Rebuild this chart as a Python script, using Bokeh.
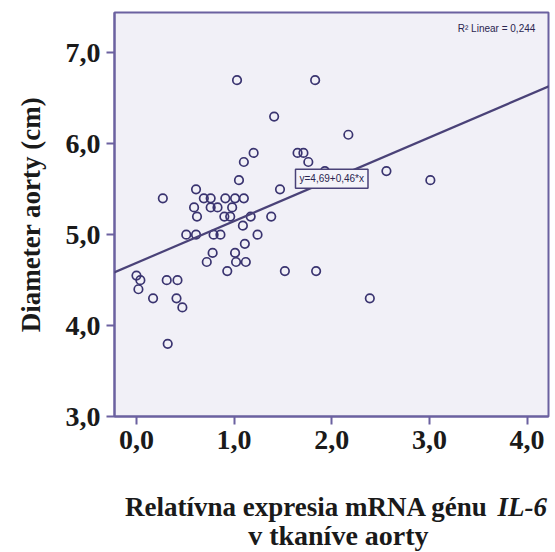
from bokeh.plotting import figure
from bokeh.layouts import column
from bokeh.models import Range1d, FixedTicker, Label, Slope
from bokeh.core.properties import value
from bokeh.embed import file_html
from bokeh.resources import INLINE

# Relative mRNA expression of IL-6 (x) vs aortic diameter in cm (y)
il6_expr = [1.03, 1.83, 1.41, 2.17, 1.20, 1.65, 1.71, 1.10, 1.76, 1.93,
            2.56, 1.05, 3.01, 0.61, 1.47, 0.27, 0.69, 0.76, 0.91, 1.01,
            1.10, 0.59, 0.76, 0.83, 0.98, 0.62, 0.90, 0.96, 1.17, 1.38,
            1.09, 0.51, 0.61, 0.79, 0.86, 1.24, 1.11, 0.78, 1.01, 0.72,
            1.02, 1.12, 0.93, 1.52, 1.84, 0.00, 0.04, 0.02, 0.31, 0.42,
            0.17, 0.41, 0.47, 0.32, 2.39]
diameter = [6.70, 6.70, 6.30, 6.10, 5.90, 5.90, 5.90, 5.80, 5.80, 5.70,
            5.70, 5.60, 5.60, 5.50, 5.50, 5.40, 5.40, 5.40, 5.40, 5.40,
            5.40, 5.30, 5.30, 5.30, 5.30, 5.20, 5.20, 5.20, 5.20, 5.20,
            5.10, 5.00, 5.00, 5.00, 5.00, 5.00, 4.90, 4.80, 4.80, 4.70,
            4.70, 4.70, 4.60, 4.60, 4.60, 4.55, 4.50, 4.40, 4.50, 4.50,
            4.30, 4.30, 4.20, 3.80, 4.30]

fit_intercept = 4.69
fit_slope = 0.46
r_squared = "0,244"

x_ticks = [0, 1, 2, 3, 4]
x_tick_labels = ["0,0", "1,0", "2,0", "3,0", "4,0"]
y_ticks = [3, 4, 5, 6, 7]
y_tick_labels = ["3,0", "4,0", "5,0", "6,0", "7,0"]

y_title = "Diameter aorty (cm)"
x_title_main = "Relatívna expresia mRNA génu"
x_title_gene = "IL-6"
x_title_line2 = "v tkaníve aorty"

PURPLE = "#6b61a0"
MARK = "#3a3470"
SERIF = "Liberation Serif"
TXT = "#1a1a1a"

p = figure(width=555, height=462, output_backend="svg", toolbar_location=None,
           x_range=Range1d(-0.225, 4.22), y_range=Range1d(3.0, 7.445),
           min_border_left=114, min_border_right=7, min_border_top=12,
           min_border_bottom=46)
p.title = None
p.background_fill_color = "#f1f0f7"
p.border_fill_color = "white"
p.outline_line_color = PURPLE
p.outline_line_width = 2
p.grid.visible = False

for ax in (p.xaxis, p.yaxis):
    ax.axis_line_color = PURPLE
    ax.axis_line_width = 2
    ax.major_tick_line_color = PURPLE
    ax.major_tick_line_width = 2
    ax.major_tick_out = 8
    ax.major_tick_in = 0
    ax.minor_tick_line_color = None
    ax.major_label_text_font = SERIF
    ax.major_label_text_font_style = "bold"
    ax.major_label_text_font_size = "28px"
    ax.major_label_text_color = TXT

p.xaxis.ticker = FixedTicker(ticks=x_ticks)
p.xaxis.major_label_overrides = dict(zip(x_ticks, x_tick_labels))
p.xaxis.major_label_standoff = 6
p.yaxis.ticker = FixedTicker(ticks=y_ticks)
p.yaxis.major_label_overrides = dict(zip(y_ticks, y_tick_labels))
p.yaxis.major_label_standoff = 6

p.yaxis.axis_label = y_title
p.yaxis.axis_label_text_font = SERIF
p.yaxis.axis_label_text_font_style = "bold"
p.yaxis.axis_label_text_font_size = "27px"
p.yaxis.axis_label_text_color = TXT
p.yaxis.axis_label_standoff = 17

p.add_layout(Slope(gradient=fit_slope, y_intercept=fit_intercept,
                   line_color="#4a4278", line_width=2.2))

p.scatter(il6_expr, diameter, marker="circle", size=8.5, fill_color=None,
          line_color=MARK, line_width=1.7)

eq = Label(x=2.0, y=5.615, text="y=4,69+0,46*x", text_align="center",
           text_baseline="middle", text_font="Liberation Sans",
           text_font_size="10px", text_color="#2a2550",
           background_fill_color="#f4f3f9", border_line_color="#4a4278",
           border_line_width=1.5, padding=4)
p.add_layout(eq)

r2 = Label(x=4.085, y=7.27, text="R² Linear = " + r_squared, text_align="right",
           text_baseline="middle", text_font="Liberation Sans",
           text_font_size="10px", text_color="#2a2550")
p.add_layout(r2)

# Caption panel below the plot (x-axis title with italic gene name).
# Its frame is aligned with the main plot's frame by the column layout,
# so its x range is set to the page pixel span of that frame.
cap = figure(width=555, height=90, output_backend="svg", toolbar_location=None,
             x_range=Range1d(114.5, 548), y_range=Range1d(0, 90),
             x_axis_location=None, y_axis_location=None,
             min_border=0, min_border_left=0, min_border_right=0,
             min_border_top=0, min_border_bottom=0)
cap.title = None
cap.grid.visible = False
cap.outline_line_color = None
cap.background_fill_color = "white"
cap.border_fill_color = "white"

cap.text(x=[125], y=[46], text=[x_title_main], text_align="left",
         text_baseline="alphabetic", text_font=value(SERIF),
         text_font_style="bold", text_font_size="27px", text_color=TXT)
cap.text(x=[497], y=[46], text=[x_title_gene], text_align="left",
         text_baseline="alphabetic", text_font=value(SERIF),
         text_font_style="bold italic", text_font_size="27px", text_color=TXT)
cap.text(x=[248], y=[17], text=[x_title_line2], text_align="left",
         text_baseline="alphabetic", text_font=value(SERIF),
         text_font_style="bold", text_font_size="28px", text_color=TXT)

layout = column(p, cap, spacing=0)
open("out.html", "w").write(file_html(layout, INLINE))
